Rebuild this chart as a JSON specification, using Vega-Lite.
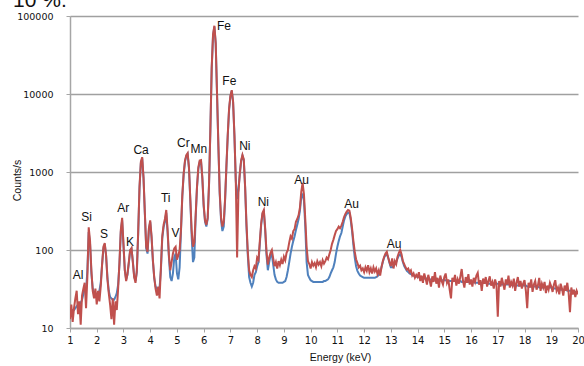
{
"$schema": "https://vega.github.io/schema/vega-lite/v6.json",
"width": 508, "height": 312,
"autosize": {"type": "none"},
"padding": {"left": 70, "top": 16, "right": 6, "bottom": 38},
"background": "white",
"config": {
 "view": {"stroke": null}, "font": "Liberation Sans",
 "axis": {"domainColor": "#a6a6a6", "domainWidth": 1.5, "tickColor": "#a6a6a6", "tickSize": 4, "tickWidth": 1,
  "labelFont": "DejaVu Sans", "labelColor": "#111", "titleFont": "Liberation Sans", "titleFontSize": 10.5, "titleFontWeight": "normal", "titleColor": "#111"},
 "axisX": {"grid": false, "labelFontSize": 10, "labelPadding": 3, "labelOverlap": false, "labelFlush": false, "titleX": 270, "titleY": 24, "titleBaseline": "top"},
 "axisY": {"grid": true, "gridColor": "#a0a0a0", "gridWidth": 1.3, "labelFontSize": 9.5, "labelPadding": 13, "titleX": -53, "titleY": 164, "titleBaseline": "middle", "titleAlign": "center"}
},
"datasets": {
"spec": [
{"e":1.00,"r":13,"b":16},{"e":1.05,"r":20,"b":16},{"e":1.10,"r":12,"b":17},{"e":1.15,"r":18,"b":17},{"e":1.20,"r":24,"b":18},
{"e":1.25,"r":30,"b":19},{"e":1.30,"r":15,"b":20},{"e":1.35,"r":22,"b":20},{"e":1.40,"r":11,"b":21},{"e":1.45,"r":26,"b":23},
{"e":1.50,"r":32,"b":27},{"e":1.55,"r":38,"b":32},{"e":1.60,"r":18,"b":30},{"e":1.65,"r":45,"b":55},{"e":1.70,"r":195,"b":170},
{"e":1.75,"r":130,"b":120},{"e":1.80,"r":55,"b":50},{"e":1.85,"r":30,"b":32},{"e":1.90,"r":24,"b":27},{"e":1.95,"r":32,"b":28},
{"e":2.00,"r":20,"b":27},{"e":2.05,"r":30,"b":28},{"e":2.10,"r":22,"b":30},{"e":2.15,"r":34,"b":38},{"e":2.20,"r":65,"b":65},
{"e":2.25,"r":110,"b":105},{"e":2.30,"r":123,"b":118},{"e":2.35,"r":85,"b":85},{"e":2.40,"r":42,"b":45},{"e":2.45,"r":28,"b":30},
{"e":2.50,"r":20,"b":25},{"e":2.55,"r":13,"b":24},{"e":2.60,"r":24,"b":23},{"e":2.65,"r":11,"b":23},{"e":2.70,"r":22,"b":25},
{"e":2.75,"r":17,"b":28},{"e":2.80,"r":32,"b":36},{"e":2.85,"r":70,"b":65},{"e":2.90,"r":180,"b":170},{"e":2.95,"r":258,"b":240},
{"e":3.00,"r":120,"b":115},{"e":3.05,"r":55,"b":55},{"e":3.10,"r":40,"b":42},{"e":3.15,"r":50,"b":48},{"e":3.20,"r":70,"b":68},
{"e":3.25,"r":100,"b":98},{"e":3.30,"r":106,"b":104},{"e":3.35,"r":70,"b":72},{"e":3.40,"r":45,"b":46},{"e":3.45,"r":38,"b":40},
{"e":3.50,"r":55,"b":52},{"e":3.55,"r":170,"b":160},{"e":3.60,"r":650,"b":620},{"e":3.65,"r":1350,"b":1300},{"e":3.70,"r":1550,"b":1500},
{"e":3.75,"r":850,"b":830},{"e":3.80,"r":300,"b":290},{"e":3.85,"r":110,"b":105},{"e":3.90,"r":95,"b":90},{"e":3.95,"r":190,"b":180},
{"e":4.00,"r":240,"b":230},{"e":4.05,"r":150,"b":145},{"e":4.10,"r":75,"b":72},{"e":4.15,"r":45,"b":44},{"e":4.20,"r":32,"b":34},
{"e":4.25,"r":26,"b":32},{"e":4.30,"r":34,"b":31},{"e":4.35,"r":24,"b":33},{"e":4.40,"r":60,"b":55},{"e":4.45,"r":150,"b":140},
{"e":4.50,"r":210,"b":195},{"e":4.55,"r":250,"b":230},{"e":4.60,"r":326,"b":300},{"e":4.65,"r":180,"b":170},{"e":4.70,"r":85,"b":80},
{"e":4.75,"r":55,"b":45},{"e":4.80,"r":70,"b":40},{"e":4.85,"r":90,"b":50},{"e":4.90,"r":105,"b":80},{"e":4.95,"r":110,"b":90},
{"e":5.00,"r":75,"b":50},{"e":5.05,"r":85,"b":42},{"e":5.10,"r":100,"b":60},{"e":5.15,"r":180,"b":170},{"e":5.20,"r":500,"b":480},
{"e":5.25,"r":950,"b":920},{"e":5.30,"r":1400,"b":1350},{"e":5.35,"r":1650,"b":1600},{"e":5.40,"r":1750,"b":1700},{"e":5.45,"r":1150,"b":1100},
{"e":5.50,"r":450,"b":430},{"e":5.55,"r":180,"b":150},{"e":5.60,"r":110,"b":70},{"e":5.65,"r":125,"b":80},{"e":5.70,"r":280,"b":260},
{"e":5.75,"r":650,"b":630},{"e":5.80,"r":1150,"b":1100},{"e":5.85,"r":1400,"b":1350},{"e":5.90,"r":1420,"b":1380},{"e":5.95,"r":850,"b":820},
{"e":6.00,"r":380,"b":360},{"e":6.05,"r":240,"b":230},{"e":6.10,"r":210,"b":200},{"e":6.15,"r":260,"b":250},{"e":6.20,"r":700,"b":680},
{"e":6.25,"r":3500,"b":3400},{"e":6.30,"r":22000,"b":21000},{"e":6.35,"r":58000,"b":56000},{"e":6.40,"r":75000,"b":73000},{"e":6.45,"r":45000,"b":44000},
{"e":6.50,"r":10000,"b":9800},{"e":6.55,"r":2200,"b":2100},{"e":6.60,"r":550,"b":520},{"e":6.65,"r":260,"b":240},{"e":6.70,"r":200,"b":175},
{"e":6.75,"r":230,"b":200},{"e":6.80,"r":450,"b":430},{"e":6.85,"r":1200,"b":1150},{"e":6.90,"r":3000,"b":2900},{"e":6.95,"r":6500,"b":6300},
{"e":7.00,"r":9500,"b":9300},{"e":7.05,"r":11200,"b":11000},{"e":7.10,"r":8000,"b":7800},{"e":7.15,"r":3000,"b":2900},{"e":7.20,"r":800,"b":780},
{"e":7.25,"r":80,"b":450},{"e":7.30,"r":550,"b":600},{"e":7.35,"r":950,"b":930},{"e":7.40,"r":1400,"b":1380},{"e":7.45,"r":1660,"b":1620},
{"e":7.50,"r":1450,"b":1420},{"e":7.55,"r":650,"b":630},{"e":7.60,"r":220,"b":200},{"e":7.65,"r":95,"b":85},{"e":7.70,"r":55,"b":45},
{"e":7.75,"r":48,"b":38},{"e":7.80,"r":45,"b":34},{"e":7.85,"r":55,"b":38},{"e":7.90,"r":62,"b":48},{"e":7.95,"r":58,"b":52},
{"e":8.00,"r":80,"b":62},{"e":8.05,"r":75,"b":70},{"e":8.10,"r":130,"b":120},{"e":8.15,"r":220,"b":210},{"e":8.20,"r":300,"b":290},
{"e":8.25,"r":326,"b":310},{"e":8.30,"r":190,"b":180},{"e":8.35,"r":95,"b":85},{"e":8.40,"r":65,"b":55},{"e":8.45,"r":80,"b":70},
{"e":8.50,"r":92,"b":85},{"e":8.55,"r":100,"b":88},{"e":8.60,"r":78,"b":65},{"e":8.65,"r":62,"b":48},{"e":8.70,"r":70,"b":42},
{"e":8.75,"r":58,"b":39},{"e":8.80,"r":72,"b":38},{"e":8.85,"r":64,"b":38},{"e":8.90,"r":75,"b":38},{"e":8.95,"r":66,"b":38},
{"e":9.00,"r":82,"b":39},{"e":9.05,"r":74,"b":40},{"e":9.10,"r":92,"b":45},{"e":9.15,"r":100,"b":55},{"e":9.20,"r":125,"b":70},
{"e":9.25,"r":150,"b":90},{"e":9.30,"r":140,"b":110},{"e":9.35,"r":175,"b":130},{"e":9.40,"r":185,"b":150},{"e":9.45,"r":230,"b":180},
{"e":9.50,"r":250,"b":210},{"e":9.55,"r":280,"b":250},{"e":9.60,"r":350,"b":320},{"e":9.65,"r":560,"b":480},{"e":9.70,"r":725,"b":510},
{"e":9.75,"r":520,"b":430},{"e":9.80,"r":250,"b":200},{"e":9.85,"r":110,"b":70},{"e":9.90,"r":72,"b":48},{"e":9.95,"r":66,"b":44},
{"e":10.00,"r":58,"b":41},{"e":10.05,"r":70,"b":40},{"e":10.10,"r":63,"b":39},{"e":10.15,"r":68,"b":39},{"e":10.20,"r":60,"b":39},
{"e":10.25,"r":72,"b":39},{"e":10.30,"r":65,"b":39},{"e":10.35,"r":70,"b":39},{"e":10.40,"r":62,"b":39},{"e":10.45,"r":74,"b":39},
{"e":10.50,"r":67,"b":40},{"e":10.55,"r":72,"b":40},{"e":10.60,"r":80,"b":41},{"e":10.65,"r":76,"b":42},{"e":10.70,"r":88,"b":45},
{"e":10.75,"r":100,"b":50},{"e":10.80,"r":120,"b":55},{"e":10.85,"r":135,"b":60},{"e":10.90,"r":155,"b":70},{"e":10.95,"r":175,"b":90},
{"e":11.00,"r":185,"b":110},{"e":11.05,"r":200,"b":130},{"e":11.10,"r":190,"b":150},{"e":11.15,"r":205,"b":165},{"e":11.20,"r":230,"b":200},
{"e":11.25,"r":265,"b":240},{"e":11.30,"r":290,"b":270},{"e":11.35,"r":310,"b":290},{"e":11.40,"r":326,"b":300},{"e":11.45,"r":320,"b":300},
{"e":11.50,"r":260,"b":240},{"e":11.55,"r":190,"b":175},{"e":11.60,"r":130,"b":115},{"e":11.65,"r":95,"b":80},{"e":11.70,"r":76,"b":62},
{"e":11.75,"r":68,"b":54},{"e":11.80,"r":60,"b":50},{"e":11.85,"r":63,"b":47},{"e":11.90,"r":55,"b":46},{"e":11.95,"r":58,"b":45},
{"e":12.00,"r":52,"b":44},{"e":12.05,"r":60,"b":44},{"e":12.10,"r":54,"b":44},{"e":12.15,"r":64,"b":44},{"e":12.20,"r":52,"b":44},
{"e":12.25,"r":58,"b":44},{"e":12.30,"r":50,"b":44},{"e":12.35,"r":60,"b":44},{"e":12.40,"r":53,"b":44},{"e":12.45,"r":58,"b":45},
{"e":12.50,"r":49,"b":46},{"e":12.55,"r":55,"b":48},{"e":12.60,"r":47,"b":52},{"e":12.65,"r":60,"b":60},{"e":12.70,"r":72,"b":70},
{"e":12.75,"r":82,"b":80},{"e":12.80,"r":90,"b":86},{"e":12.85,"r":95,"b":88},{"e":12.90,"r":80,"b":80},{"e":12.95,"r":70,"b":68},
{"e":13.00,"r":62,"b":60},{"e":13.05,"r":78,"b":60},{"e":13.10,"r":58,"b":62},{"e":13.15,"r":72,"b":66},{"e":13.20,"r":66,"b":70},
{"e":13.25,"r":82,"b":78},{"e":13.30,"r":92,"b":85},{"e":13.35,"r":100,"b":88},{"e":13.40,"r":88,"b":82},{"e":13.45,"r":72,"b":70},
{"e":13.50,"r":66,"b":62},{"e":13.55,"r":60,"b":58},{"e":13.60,"r":56,"b":54},{"e":13.65,"r":58,"b":52},{"e":13.70,"r":52,"b":50},
{"e":13.75,"r":55,"b":49},{"e":13.80,"r":47,"b":48},{"e":13.85,"r":50,"b":47},{"e":13.90,"r":44,"b":46},{"e":13.95,"r":48,"b":46},
{"e":14.00,"r":45,"b":45},{"e":14.05,"r":52,"b":45},{"e":14.10,"r":40,"b":44},{"e":14.15,"r":47,"b":44},{"e":14.20,"r":38,"b":44},
{"e":14.25,"r":50,"b":43},{"e":14.30,"r":43,"b":43},{"e":14.35,"r":36,"b":43},{"e":14.40,"r":48,"b":43},{"e":14.45,"r":41,"b":42},
{"e":14.50,"r":34,"b":42},{"e":14.55,"r":46,"b":42},{"e":14.60,"r":39,"b":42},{"e":14.65,"r":52,"b":42},{"e":14.70,"r":37,"b":41},
{"e":14.75,"r":44,"b":41},{"e":14.80,"r":33,"b":41},{"e":14.85,"r":47,"b":41},{"e":14.90,"r":40,"b":41},{"e":14.95,"r":36,"b":41},
{"e":15.00,"r":45,"b":41},{"e":15.05,"r":50,"b":41},{"e":15.10,"r":38,"b":40},{"e":15.15,"r":42,"b":40},{"e":15.20,"r":31,"b":40},
{"e":15.25,"r":24,"b":40},{"e":15.30,"r":44,"b":40},{"e":15.35,"r":39,"b":40},{"e":15.40,"r":48,"b":40},{"e":15.45,"r":35,"b":40},
{"e":15.50,"r":42,"b":40},{"e":15.55,"r":37,"b":40},{"e":15.60,"r":46,"b":40},{"e":15.65,"r":57,"b":39},{"e":15.70,"r":40,"b":39},
{"e":15.75,"r":33,"b":39},{"e":15.80,"r":45,"b":39},{"e":15.85,"r":38,"b":39},{"e":15.90,"r":49,"b":39},{"e":15.95,"r":36,"b":39},
{"e":16.00,"r":42,"b":39},{"e":16.05,"r":34,"b":39},{"e":16.10,"r":44,"b":39},{"e":16.15,"r":39,"b":38},{"e":16.20,"r":47,"b":38},
{"e":16.25,"r":51,"b":38},{"e":16.30,"r":36,"b":38},{"e":16.35,"r":41,"b":38},{"e":16.40,"r":30,"b":38},{"e":16.45,"r":43,"b":38},
{"e":16.50,"r":37,"b":38},{"e":16.55,"r":45,"b":38},{"e":16.60,"r":34,"b":38},{"e":16.65,"r":40,"b":37},{"e":16.70,"r":46,"b":37},
{"e":16.75,"r":35,"b":37},{"e":16.80,"r":39,"b":37},{"e":16.85,"r":32,"b":37},{"e":16.90,"r":42,"b":37},{"e":16.95,"r":36,"b":37},
{"e":17.00,"r":14,"b":37},{"e":17.05,"r":40,"b":37},{"e":17.10,"r":34,"b":36},{"e":17.15,"r":44,"b":36},{"e":17.20,"r":37,"b":36},
{"e":17.25,"r":31,"b":36},{"e":17.30,"r":42,"b":36},{"e":17.35,"r":36,"b":36},{"e":17.40,"r":47,"b":36},{"e":17.45,"r":33,"b":36},
{"e":17.50,"r":39,"b":36},{"e":17.55,"r":35,"b":35},{"e":17.60,"r":43,"b":35},{"e":17.65,"r":30,"b":35},{"e":17.70,"r":38,"b":35},
{"e":17.75,"r":45,"b":35},{"e":17.80,"r":34,"b":35},{"e":17.85,"r":40,"b":35},{"e":17.90,"r":32,"b":35},{"e":17.95,"r":37,"b":35},
{"e":18.00,"r":41,"b":35},{"e":18.05,"r":30,"b":35},{"e":18.10,"r":18,"b":34},{"e":18.15,"r":38,"b":34},{"e":18.20,"r":33,"b":34},
{"e":18.25,"r":42,"b":34},{"e":18.30,"r":29,"b":34},{"e":18.35,"r":36,"b":34},{"e":18.40,"r":40,"b":34},{"e":18.45,"r":31,"b":34},
{"e":18.50,"r":35,"b":34},{"e":18.55,"r":44,"b":33},{"e":18.60,"r":30,"b":33},{"e":18.65,"r":37,"b":33},{"e":18.70,"r":33,"b":33},
{"e":18.75,"r":39,"b":33},{"e":18.80,"r":28,"b":33},{"e":18.85,"r":35,"b":33},{"e":18.90,"r":31,"b":33},{"e":18.95,"r":38,"b":33},
{"e":19.00,"r":34,"b":33},{"e":19.05,"r":29,"b":33},{"e":19.10,"r":36,"b":32},{"e":19.15,"r":41,"b":32},{"e":19.20,"r":30,"b":32},
{"e":19.25,"r":33,"b":32},{"e":19.30,"r":27,"b":32},{"e":19.35,"r":37,"b":31},{"e":19.40,"r":32,"b":31},{"e":19.45,"r":26,"b":31},
{"e":19.50,"r":35,"b":31},{"e":19.55,"r":30,"b":31},{"e":19.60,"r":38,"b":30},{"e":19.65,"r":28,"b":30},{"e":19.70,"r":16,"b":30},
{"e":19.75,"r":33,"b":30},{"e":19.80,"r":27,"b":30},{"e":19.85,"r":31,"b":29},{"e":19.90,"r":25,"b":29},{"e":19.95,"r":30,"b":29},
{"e":20.00,"r":27,"b":29}
],
"labels": [
{"label":"Al","e":1.30,"c":48},{"label":"Si","e":1.62,"c":267},{"label":"S","e":2.27,"c":160},{"label":"Ar","e":2.99,"c":345},
{"label":"K","e":3.24,"c":128},{"label":"Ca","e":3.66,"c":1910},{"label":"Ti","e":4.58,"c":460},{"label":"V","e":4.95,"c":164},
{"label":"Cr","e":5.24,"c":2378},{"label":"Mn","e":5.82,"c":1954},{"label":"Fe","e":6.76,"c":74000},{"label":"Fe","e":6.96,"c":14700},
{"label":"Ni","e":7.54,"c":2172},{"label":"Ni","e":8.23,"c":416},{"label":"Au","e":9.66,"c":789},{"label":"Au","e":11.53,"c":390},
{"label":"Au","e":13.12,"c":119}
],
"caption": [
{"label":"10 %.","e":-1.13,"c":130000}
]
},
"encoding": {
 "x": {"field": "e", "type": "quantitative", "scale": {"domain": [1, 20], "nice": false, "zero": false},
  "axis": {"title": "Energy (keV)", "values": [1,2,3,4,5,6,7,8,9,10,11,12,13,14,15,16,17,18,19,20], "labelOverlap": false}}
},
"layer": [
{"data": {"name": "spec"},
 "mark": {"type": "line", "color": "#4f81bd", "strokeWidth": 2, "clip": true},
 "encoding": {
  "y": {"field": "b", "type": "quantitative", "scale": {"type": "log", "domain": [10, 100000], "nice": false},
   "axis": {"title": "Counts/s", "values": [10,100,1000,10000,100000], "format": "d"}}
 }},
{"data": {"name": "spec"},
 "mark": {"type": "line", "color": "#c0504d", "strokeWidth": 2, "clip": true},
 "encoding": {
  "y": {"field": "r", "type": "quantitative", "axis": {"title": "Counts/s", "values": [10,100,1000,10000,100000], "format": "d"}}
 }},
{"data": {"name": "labels"},
 "mark": {"type": "text", "font": "Liberation Sans", "fontSize": 12, "color": "#111", "baseline": "middle", "align": "center"},
 "encoding": {
  "y": {"field": "c", "type": "quantitative", "axis": {"title": "Counts/s", "values": [10,100,1000,10000,100000], "format": "d"}},
  "text": {"field": "label"}
 }},
{"data": {"name": "caption"},
 "mark": {"type": "text", "font": "Liberation Sans", "fontSize": 21, "color": "#111", "baseline": "alphabetic", "align": "left", "clip": false},
 "encoding": {
  "y": {"field": "c", "type": "quantitative", "axis": {"title": "Counts/s", "values": [10,100,1000,10000,100000], "format": "d"}},
  "text": {"field": "label"}
 }}
]
}
